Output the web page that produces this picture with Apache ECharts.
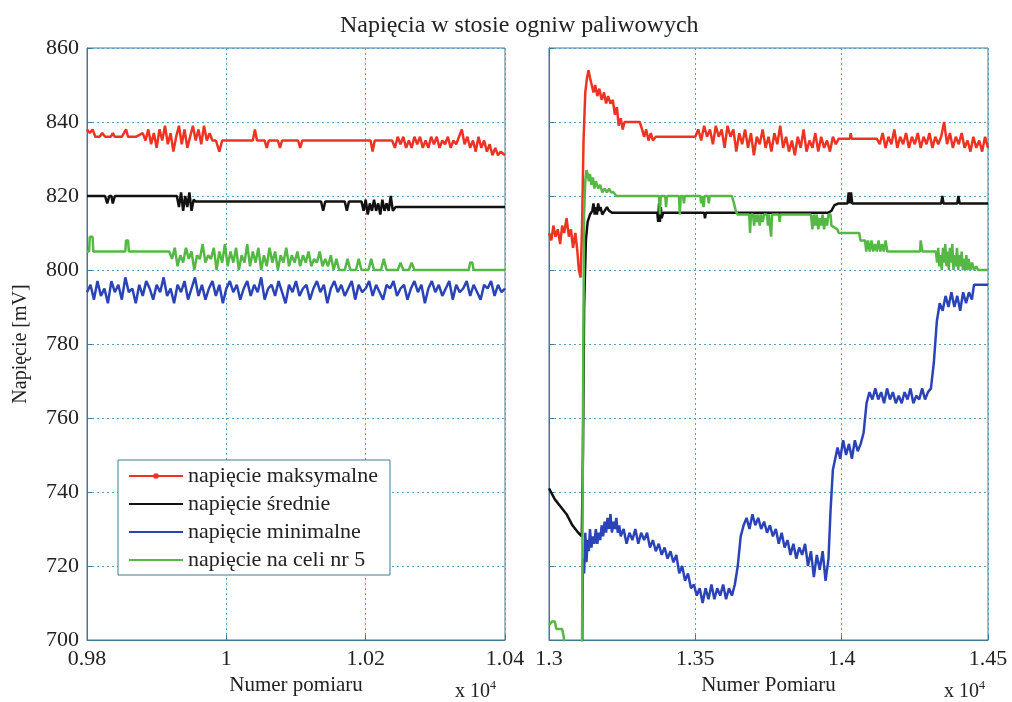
<!DOCTYPE html>
<html>
<head>
<meta charset="utf-8">
<script src="https://cdn.jsdelivr.net/npm/echarts@6/dist/echarts.min.js"></script>
<style>
  html, body { margin: 0; padding: 0; background: #fff; }
  #chart { width: 1012px; height: 702px; }
</style>
</head>
<body>
<div id="chart"></div>
<script>
// axis ticks (numer pomiaru, shown as x 10^4)
var leftTicks = [9800, 10000, 10200, 10400];
var rightTicks = [13000, 13500, 14000, 14500];
var yTicks = [700, 720, 740, 760, 780, 800, 820, 840, 860];

var names = ['napięcie maksymalne', 'napięcie średnie', 'napięcie minimalne', 'napięcie na celi nr 5'];

// left panel 0.98 - 1.04 (x 10^4)
var maxLeft = [[9800,838],[9804,837],[9808,838],[9812,836],[9818,836],[9822,837],[9826,836],[9834,836],[9837,837],[9840,836],[9850,836],[9856,838],[9859,836],[9870,836],
  [9880,837],[9884,835],[9888,838],[9892,834],[9896,837],[9900,833],[9904,838],[9908,835],[9912,839],[9916,834],[9920,837],[9924,832],[9928,836],[9932,839],[9936,834],
  [9940,838],[9944,833],[9948,836],[9952,839],[9956,835],[9960,838],[9964,834],[9968,839],[9972,835],[9976,837],[9980,835],[9985,835],[9990,832],[9994,835],
  [10038,835],[10041,838],[10044,835],[10055,835],[10058,833],[10061,835],[10074,835],[10077,833],[10080,835],[10103,835],[10106,833],[10109,835],
  [10207,835],[10210,832],[10213,835],[10238,835],[10242,833],[10246,836],[10250,834],[10254,836],[10258,833],[10262,835],[10266,833],[10270,836],[10274,834],
  [10278,836],[10282,833],[10286,835],[10290,833],[10294,836],[10298,834],[10302,836],[10306,833],[10310,835],[10314,834],[10318,836],[10322,833],[10326,835],
  [10330,834],[10334,836],[10338,838],[10342,834],[10346,836],[10350,833],[10354,835],[10358,832],[10362,836],[10366,833],[10370,835],[10374,832],[10378,834],
  [10382,831],[10386,833],[10390,831],[10394,832],[10400,831]];

var avgLeft = [[9800,820],[9826,820],[9829,818],[9832,820],[9835,820],[9837,818],[9840,820],[9929,820],[9932,817],[9935,821],[9938,816],[9941,820],[9944,817],
  [9947,821],[9950,816],[9953,819],[9956,818.5],[10136,818.5],[10139,816],[10142,818.5],[10170,818.5],[10173,816],[10176,818.5],[10194,818.5],[10197,816],
  [10200,819],[10203,815],[10206,818],[10209,816],[10212,819],[10215,816],[10218,818],[10221,815],[10224,819],[10227,816],[10230,818],[10233,816],[10236,820],
  [10239,816],[10243,817],[10400,817]];

var minLeft = [[9800,794],[9805,796],[9810,792],[9815,797],[9820,793],[9825,795],[9830,791],[9835,797],[9840,794],[9845,796],[9850,792],[9855,798],[9860,794],
  [9865,795],[9870,791],[9875,796],[9880,793],[9885,797],[9890,795],[9895,792],[9900,796],[9905,794],[9910,798],[9915,793],[9920,795],[9925,791],[9930,796],
  [9935,794],[9940,797],[9945,792],[9950,795],[9955,798],[9960,793],[9965,796],[9970,792],[9975,795],[9980,797],[9985,793],[9990,796],[9995,791],[10000,795],
  [10005,797],[10010,794],[10015,796],[10020,792],[10025,795],[10030,797],[10035,793],[10040,796],[10045,794],[10050,798],[10055,792],[10060,795],[10065,796],
  [10070,793],[10075,797],[10080,794],[10085,791],[10090,796],[10095,794],[10100,797],[10105,793],[10110,795],[10115,796],[10120,792],[10125,795],[10130,797],
  [10135,794],[10140,796],[10145,791],[10150,795],[10155,797],[10160,794],[10165,796],[10170,793],[10175,795],[10180,797],[10185,792],[10190,796],[10195,794],
  [10200,795],[10205,797],[10210,793],[10215,796],[10220,794],[10225,792],[10230,796],[10235,795],[10240,797],[10245,793],[10250,795],[10255,796],[10260,792],
  [10265,795],[10270,797],[10275,794],[10280,796],[10285,791],[10290,795],[10295,797],[10300,794],[10305,796],[10310,793],[10315,795],[10320,797],[10325,792],
  [10330,796],[10335,794],[10340,795],[10345,797],[10350,793],[10355,796],[10360,794],[10365,792],[10370,796],[10375,795],[10380,797],[10385,793],[10390,796],
  [10395,794],[10400,795]];

var cellLeft = [[9800,805],[9803,805],[9804,809],[9808,809],[9809,805],[9855,805],[9856,808],[9859,808],[9860,805],[9918,805],
  [9922,803],[9926,806],[9930,801],[9934,804],[9938,802],[9942,806],[9946,803],[9950,805],[9954,800],[9958,804],[9962,803],[9966,807],[9970,802],[9974,804],
  [9978,803],[9982,806],[9986,800],[9990,805],[9994,802],[9998,807],[10002,801],[10006,805],[10010,802],[10014,806],[10018,800],[10022,804],[10026,802],
  [10030,807],[10034,801],[10038,805],[10042,802],[10046,806],[10050,800],[10054,804],[10058,801],[10062,806],[10066,802],[10070,805],[10074,800],[10078,804],
  [10082,802],[10086,806],[10090,801],[10094,804],[10098,802],[10102,805],[10106,801],[10110,804],[10114,802],[10118,805],[10122,801],[10126,803],[10130,802],
  [10134,805],[10138,801],[10142,803],[10146,801],[10150,804],[10154,800],[10158,803],[10162,800],[10170,800],[10174,803],[10178,800],[10186,800],[10190,803],
  [10194,800],[10204,800],[10208,803],[10212,800],[10222,800],[10226,803],[10230,800],[10246,800],[10250,802],[10254,800],[10262,800],[10266,802],[10270,800],
  [10348,800],[10350,802],[10353,802],[10355,800],[10400,800]];

// right panel 1.3 - 1.45 (x 10^4)
var maxRight = [[13000,810],[13008,808],[13015,812],[13022,809],[13030,811],[13038,807],[13045,812],[13052,810],[13060,814],[13068,809],[13075,811],
  [13082,806],[13090,810],[13097,805],[13102,800],[13108,798],[13113,812],[13118,835],[13124,848],[13130,852],[13135,854],[13140,852],[13146,850],[13152,848],
  [13158,850],[13165,847],[13172,849],[13180,846],[13188,848],[13195,845],[13202,847],[13210,845],[13218,846],[13225,842],[13232,844],[13238,839],[13245,841],
  [13252,838],[13258,840],[13300,840],[13310,840],[13318,838],[13325,836],[13332,838],[13340,835],[13348,837],[13355,835],[13365,836],[13500,836],
  [13510,838],[13520,835],[13530,839],[13540,836],[13550,838],[13560,834],[13570,839],[13580,836],[13590,838],[13600,833],[13610,839],[13620,836],[13630,838],
  [13640,832],[13650,837],[13660,834],[13670,838],[13680,833],[13690,837],[13700,831],[13710,836],[13720,834],[13730,838],[13740,833],[13750,836],[13760,832],
  [13770,837],[13780,834],[13790,839],[13800,833],[13810,836],[13820,832],[13830,835],[13840,831],[13850,836],[13860,833],[13870,838],[13880,832],[13890,835],
  [13900,833],[13910,837],[13920,832],[13930,836],[13940,833],[13950,835],[13960,832],[13970,836],[13980,834],[13990,835.5],[14028,835.5],[14031,837],
  [14034,835.5],[14120,835.5],[14130,834],[14140,837],[14150,833],[14160,836],[14170,834],[14180,838],[14190,833],[14200,836],[14210,834],[14220,837],
  [14230,833],[14240,836],[14250,834],[14260,837],[14270,833],[14280,836],[14290,834],[14300,837],[14310,833],[14320,836],[14330,834],[14340,836],[14350,840],
  [14360,834],[14370,837],[14380,833],[14390,836],[14400,834],[14410,837],[14420,833],[14430,835],[14440,832],[14450,836],[14460,833],[14470,835],[14480,832],
  [14490,836],[14500,833]];

var avgRight = [[13000,741],[13020,738],[13040,736],[13060,734],[13080,731],[13100,729],[13112,728],[13116,750],[13120,790],[13126,808],[13132,813],
  [13140,815],[13148,816],[13152,818],[13156,815],[13160,817],[13164,815],[13168,818],[13172,816],[13176,817],[13182,815],[13190,816],[13198,817],[13205,816],
  [13215,815.5],[13370,815.5],[13373,813],[13376,818],[13379,813],[13382,817],[13385,814],[13390,815.5],[13530,815.5],[13533,814],[13536,815.5],[13955,815.5],
  [13965,816],[13975,817.5],[13990,818],[14020,818],[14024,821],[14028,818],[14032,821],[14036,818],[14340,818],[14344,820],[14348,818],[14395,818],[14399,820],
  [14403,818],[14500,818]];

var minRight = [[13000,680],[13112,680],[13116,722],[13120,718],[13124,729],[13128,721],[13132,727],[13136,724],[13140,730],[13145,725],[13150,728],
  [13155,726],[13160,730],[13165,726],[13170,729],[13175,727],[13180,731],[13185,728],[13190,732],[13195,729],[13200,733],[13205,730],[13210,734],[13215,729],
  [13220,732],[13225,730],[13230,733],[13235,729],[13240,731],[13245,728],[13255,730],[13265,726],[13275,729],[13285,727],[13295,730],[13305,726],[13315,729],
  [13325,727],[13335,729],[13345,725],[13355,727],[13365,724],[13375,726],[13385,723],[13395,725],[13405,722],[13415,724],[13425,721],[13435,723],[13445,718],
  [13455,720],[13465,716],[13475,718],[13485,714],[13495,715],[13505,712],[13515,714],[13525,710],[13535,714],[13545,711],[13555,715],[13565,711],[13575,714],
  [13585,712],[13595,715],[13605,711],[13615,714],[13625,712],[13635,715],[13645,720],[13655,728],[13665,731],[13675,733],[13685,730],[13695,734],[13705,731],
  [13715,733],[13725,730],[13735,732],[13745,729],[13755,731],[13765,728],[13775,730],[13785,726],[13795,729],[13805,725],[13815,727],[13825,723],[13835,726],
  [13845,722],[13855,725],[13865,723],[13875,726],[13885,720],[13895,724],[13905,717],[13915,723],[13925,719],[13935,724],[13945,716],[13955,722],[13962,735],
  [13970,746],[13978,749],[13986,752],[13995,749],[14005,754],[14015,750],[14025,753],[14035,749],[14045,754],[14055,751],[14065,753],[14075,756],[14085,764],
  [14095,767],[14105,765],[14115,768],[14125,765],[14135,767],[14145,764],[14155,768],[14165,765],[14175,767],[14185,764],[14195,766],[14205,764],[14215,767],
  [14225,765],[14235,768],[14245,764],[14255,766],[14265,765],[14275,768],[14285,765],[14295,767],[14305,768],[14315,775],[14325,786],[14335,791],[14345,789],
  [14355,793],[14365,790],[14375,794],[14385,790],[14395,793],[14405,789],[14415,794],[14425,791],[14435,794],[14445,792],[14452,796],[14500,796]];

var cellRight = [[13000,704],[13010,705],[13020,705],[13025,703],[13045,703],[13050,701],[13055,697],[13060,680],[13112,680],[13116,760],[13120,815],
  [13124,824],[13128,827],[13132,826],[13136,824],[13140,826],[13145,823],[13150,825],[13155,822],[13160,824],[13168,822],[13175,823],[13182,821],[13190,822],
  [13198,821],[13205,822],[13212,821],[13220,821],[13230,820],[13376,820],[13379,815],[13382,820],[13397,820],[13400,817],[13403,820],[13444,820],[13447,815],
  [13450,820],[13458,820],[13461,818],[13464,820],[13517,820],[13520,818],[13524,820],[13528,817],[13532,820],[13543,820],[13546,818],[13549,820],[13625,820],
  [13632,818],[13638,816],[13644,815],[13684,815],[13687,810],[13690,815],[13697,815],[13701,812],[13705,815],[13710,813],[13715,815],[13720,812],[13725,815],
  [13730,813],[13735,815],[13745,815],[13748,812],[13751,815],[13756,815],[13759,809],[13762,815],[13785,815],[13788,813],[13791,815],[13895,815],[13900,811],
  [13905,815],[13910,812],[13915,815],[13920,811],[13925,814],[13930,812],[13935,815],[13940,811],[13945,814],[13950,812],[13955,815],[13962,815],[13965,812],
  [13985,811],[13990,810],[14060,810],[14064,808],[14080,808],[14084,805],[14090,808],[14096,805],[14102,808],[14108,805],[14114,807],[14120,805],[14126,808],
  [14132,805],[14138,807],[14144,805],[14150,808],[14156,805],[14268,805],[14270,808],[14274,808],[14276,805],[14322,805],[14326,802],[14330,806],[14334,801],
  [14338,804],[14342,800],[14346,806],[14350,802],[14354,807],[14358,801],[14362,805],[14366,800],[14370,806],[14374,802],[14378,807],[14382,800],[14386,804],
  [14390,801],[14394,806],[14398,800],[14402,804],[14406,801],[14410,805],[14414,800],[14418,803],[14422,800],[14426,804],[14430,800],[14434,803],[14440,800],
  [14446,802],[14452,800],[14460,801],[14466,800],[14500,800]];

var colors = ['#ee3322', '#111111', '#2a44b8', '#55b845'];
var serif = 'Liberation Serif';
var frameColor = '#3f7a92';
var gridLine = '#5a9ec2';

var chart = echarts.init(document.getElementById('chart'));

function xAxisFor(idx, ticks, label) {
  return {
    type: 'value', gridIndex: idx,
    min: ticks[0], max: ticks[ticks.length - 1], interval: ticks[1] - ticks[0],
    name: label, nameLocation: 'middle', nameGap: 30,
    nameTextStyle: { fontFamily: serif, fontSize: 21, color: '#222' },
    axisLine: { lineStyle: { color: frameColor } },
    axisTick: { inside: true, length: 5, lineStyle: { color: frameColor } },
    axisLabel: { fontFamily: serif, fontSize: 22, color: '#222', margin: 8,
      formatter: function (v) { return String(+(v / 10000).toFixed(4)); } },
    splitLine: { show: true, lineStyle: { color: gridLine, type: [2, 3], width: 1 } }
  };
}

function yAxisFor(idx, showLabels) {
  return {
    type: 'value', gridIndex: idx,
    min: yTicks[0], max: yTicks[yTicks.length - 1], interval: 20,
    name: showLabels ? 'Napięcie [mV]' : '', nameLocation: 'middle', nameGap: 56,
    nameTextStyle: { fontFamily: serif, fontSize: 20, color: '#222' },
    axisLine: { show: true, lineStyle: { color: frameColor } },
    axisTick: { show: true, inside: true, length: 5, lineStyle: { color: frameColor } },
    axisLabel: { show: showLabels, fontFamily: serif, fontSize: 22, color: '#222', margin: 8 },
    splitLine: { show: true, lineStyle: { color: gridLine, type: [2, 3], width: 1 } }
  };
}

function lineSeries(name, data, idx, color, dotted) {
  return {
    name: name, type: 'line', data: data,
    xAxisIndex: idx, yAxisIndex: idx,
    symbol: dotted ? 'circle' : 'none', symbolSize: 5, showSymbol: false,
    lineStyle: { color: color, width: 2.5 },
    itemStyle: { color: color },
    animation: false, clip: true
  };
}

var supText = {
  rich: {
    a: { fontFamily: serif, fontSize: 20, fill: '#222' },
    s: { fontFamily: serif, fontSize: 12, fill: '#222', verticalAlign: 'top', padding: [0, 0, 12, 0] }
  },
  text: '{a|x 10}{s|4}'
};

chart.setOption({
  animation: false,
  graphic: [
    { type: 'text', left: 340, top: 14, style: { text: 'Napięcia w stosie ogniw paliwowych', font: '24px "Liberation Serif"', fill: '#222' } },
    { type: 'text', left: 455, top: 680, style: supText },
    { type: 'text', left: 944, top: 680, style: supText }
  ],
  grid: [
    { left: 87, top: 48, width: 418, height: 592, show: true, borderColor: frameColor, borderWidth: 1, backgroundColor: '#fff' },
    { left: 549, top: 48, width: 439, height: 592, show: true, borderColor: frameColor, borderWidth: 1, backgroundColor: '#fff' }
  ],
  xAxis: [xAxisFor(0, leftTicks, 'Numer pomiaru'), xAxisFor(1, rightTicks, 'Numer Pomiaru')],
  yAxis: [yAxisFor(0, true), yAxisFor(1, false)],
  legend: {
    data: [
      { name: names[0] },
      { name: names[1], itemStyle: { opacity: 0 } },
      { name: names[2], itemStyle: { opacity: 0 } },
      { name: names[3], itemStyle: { opacity: 0 } }
    ],
    orient: 'vertical', left: 118, top: 460,
    backgroundColor: '#fff', borderColor: frameColor, borderWidth: 1, borderRadius: 0,
    padding: [5, 12, 4, 10], itemWidth: 54, itemHeight: 7, itemGap: 6,
    textStyle: { fontFamily: serif, fontSize: 22, color: '#222', lineHeight: 22 }
  },
  series: [
    lineSeries(names[0], maxLeft, 0, colors[0], true),
    lineSeries(names[1], avgLeft, 0, colors[1], false),
    lineSeries(names[2], minLeft, 0, colors[2], false),
    lineSeries(names[3], cellLeft, 0, colors[3], false),
    lineSeries(names[0], maxRight, 1, colors[0], true),
    lineSeries(names[1], avgRight, 1, colors[1], false),
    lineSeries(names[2], minRight, 1, colors[2], false),
    lineSeries(names[3], cellRight, 1, colors[3], false)
  ]
});
</script>
</body>
</html>
